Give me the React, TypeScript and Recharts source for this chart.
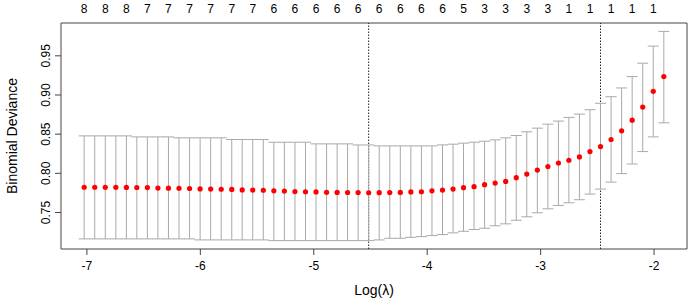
import {
  ComposedChart, Scatter, ErrorBar, XAxis, YAxis, ReferenceLine, ReferenceArea,
} from 'recharts';

// cv.glmnet style plot: log(lambda) vs binomial deviance with CV error bars
const logLambda = [
  -7.024, -6.931, -6.838, -6.745, -6.652, -6.560, -6.467, -6.374, -6.281, -6.188,
  -6.095, -6.002, -5.909, -5.816, -5.723, -5.631, -5.538, -5.445, -5.352, -5.259,
  -5.166, -5.073, -4.980, -4.887, -4.794, -4.702, -4.609, -4.516, -4.423, -4.330,
  -4.237, -4.144, -4.051, -3.958, -3.865, -3.772, -3.680, -3.587, -3.494, -3.401,
  -3.308, -3.215, -3.122, -3.029, -2.936, -2.843, -2.751, -2.658, -2.565, -2.472,
  -2.379, -2.286, -2.193, -2.100, -2.007, -1.914,
];

const meanDev = [
  0.7822, 0.7822, 0.7821, 0.7821, 0.7820, 0.7819, 0.7818, 0.7812, 0.7810, 0.7808,
  0.7806, 0.7801, 0.7799, 0.7797, 0.7795, 0.7788, 0.7786, 0.7784, 0.7776, 0.7773,
  0.7767, 0.7765, 0.7763, 0.7758, 0.7756, 0.7755, 0.7754, 0.7752, 0.7753, 0.7754,
  0.7756, 0.7762, 0.7765, 0.7776, 0.7786, 0.7799, 0.7817, 0.7829, 0.7855, 0.7876,
  0.7897, 0.7945, 0.7991, 0.8042, 0.8086, 0.8132, 0.8167, 0.8209, 0.8278, 0.8342,
  0.8432, 0.8542, 0.8679, 0.8846, 0.9047, 0.9235,
];

const upperDev = [
  0.8478, 0.8478, 0.8478, 0.8478, 0.8478, 0.8465, 0.8465, 0.8465, 0.8465, 0.8453,
  0.8453, 0.8453, 0.8453, 0.8453, 0.8432, 0.8432, 0.8432, 0.8432, 0.8397, 0.8397,
  0.8397, 0.8397, 0.8376, 0.8376, 0.8376, 0.8376, 0.8362, 0.8362, 0.8350, 0.8350,
  0.8350, 0.8350, 0.8350, 0.8350, 0.8363, 0.8372, 0.8385, 0.8397, 0.8410, 0.8427,
  0.8453, 0.8483, 0.8530, 0.8577, 0.8628, 0.8667, 0.8714, 0.8756, 0.8812, 0.8894,
  0.8978, 0.9090, 0.9235, 0.9406, 0.9624, 0.9812,
];

const lowerDev = [
  0.7163, 0.7163, 0.7163, 0.7163, 0.7163, 0.7163, 0.7163, 0.7163, 0.7163, 0.7163,
  0.7163, 0.7150, 0.7150, 0.7150, 0.7150, 0.7150, 0.7150, 0.7150, 0.7141, 0.7141,
  0.7141, 0.7141, 0.7141, 0.7141, 0.7141, 0.7141, 0.7141, 0.7141, 0.7150, 0.7171,
  0.7171, 0.7183, 0.7192, 0.7205, 0.7218, 0.7240, 0.7260, 0.7282, 0.7299, 0.7330,
  0.7355, 0.7401, 0.7445, 0.7496, 0.7547, 0.7590, 0.7624, 0.7663, 0.7735, 0.7799,
  0.7888, 0.7996, 0.8119, 0.8278, 0.8465, 0.8645,
];

// number of nonzero coefficients, printed at every other lambda along the top
const nzeroLabels = [
  '8', '8', '8', '7', '7', '7', '7', '7', '7', '6', '6', '6', '6', '6',
  '6', '6', '6', '6', '5', '3', '3', '3', '3', '1', '1', '1', '1', '1',
];

const xTicks = [-7, -6, -5, -4, -3, -2];
const yTicks = [0.75, 0.8, 0.85, 0.9, 0.95];
const lambdaMin = -4.516;
const lambda1se = -2.472;

const xDomain: [number, number] = [-7.2284, -1.7096];
const yDomain: [number, number] = [0.7034, 0.9919];

const data = logLambda.map((x, i) => ({
  x,
  y: meanDev[i],
  err: [meanDev[i] - lowerDev[i], upperDev[i] - meanDev[i]],
}));
const topTicks = logLambda.filter((_, i) => i % 2 === 0);

const font = '"Liberation Sans", Arial, sans-serif';
const axisColor = '#444';

function YTick(props: any) {
  const { x, y, payload } = props;
  const cx = x - 1;
  return (
    <text x={cx} y={y} transform={`rotate(-90, ${cx}, ${y})`} textAnchor="middle"
      fontSize={12} fill="#000" fontFamily={font}>
      {payload.value.toFixed(2)}
    </text>
  );
}

function TopTick(props: any) {
  const { x, index } = props;
  return (
    <text x={x} y={13} textAnchor="middle" fontSize={12} fill="#000" fontFamily={font}>
      {nzeroLabels[index]}
    </text>
  );
}

export default function App() {
  return (
    <div style={{ position: 'absolute', left: 0, top: 0, fontFamily: font, background: '#fff' }}>
      <ComposedChart width={692} height={303} data={data}
        margin={{ top: 0, right: 5, bottom: 0, left: 0 }}>
        <XAxis dataKey="x" type="number" domain={xDomain} ticks={xTicks} interval={0}
          allowDataOverflow axisLine={false} tickSize={6} tickMargin={6} height={54}
          tickLine={{ stroke: axisColor }}
          tick={{ fontSize: 12, fill: '#000', fontFamily: font }}
          tickFormatter={(v: number) => String(v)}
          label={{
            content: (p: any) => (
              <text x={p.viewBox.x + p.viewBox.width / 2} y={p.viewBox.y + 46}
                textAnchor="middle" fontSize={14} fill="#000" fontFamily={font}>
                Log(λ)
              </text>
            ),
          }} />
        <XAxis xAxisId="top" dataKey="x" type="number" orientation="top" domain={xDomain}
          ticks={topTicks} interval={0} allowDataOverflow axisLine={false} tickLine={false}
          height={23} tick={<TopTick />} />
        <YAxis type="number" domain={yDomain} ticks={yTicks} interval={0} allowDataOverflow
          axisLine={false} width={61} tickSize={6} tickMargin={4}
          tickLine={{ stroke: axisColor }} tick={<YTick />}
          label={{
            content: (p: any) => {
              const cx = p.viewBox.x + 17;
              const cy = p.viewBox.y + p.viewBox.height / 2;
              return (
                <text x={cx} y={cy} transform={`rotate(-90, ${cx}, ${cy})`} textAnchor="middle"
                  fontSize={14} fill="#000" fontFamily={font}>
                  Binomial Deviance
                </text>
              );
            },
          }} />
        <ReferenceArea x1={xDomain[0]} x2={xDomain[1]} y1={yDomain[0]} y2={yDomain[1]}
          fill="none" stroke={axisColor} strokeWidth={1} ifOverflow="visible" />
        <ReferenceLine x={lambdaMin} stroke="#222" strokeDasharray="1.5 1.5" />
        <ReferenceLine x={lambda1se} stroke="#222" strokeDasharray="1.5 1.5" />
        <Scatter dataKey="y" fill="#ff0000" isAnimationActive={false}
          shape={(p: any) => <circle cx={p.cx} cy={p.cy} r={2.6} fill="#ff0000" />}>
          <ErrorBar dataKey="err" direction="y" width={5.5} stroke="#a9a9a9" strokeWidth={1}
            isAnimationActive={false} />
        </Scatter>
        <Scatter xAxisId="top" dataKey="y" isAnimationActive={false}
          shape={() => <g />} />
      </ComposedChart>
    </div>
  );
}
